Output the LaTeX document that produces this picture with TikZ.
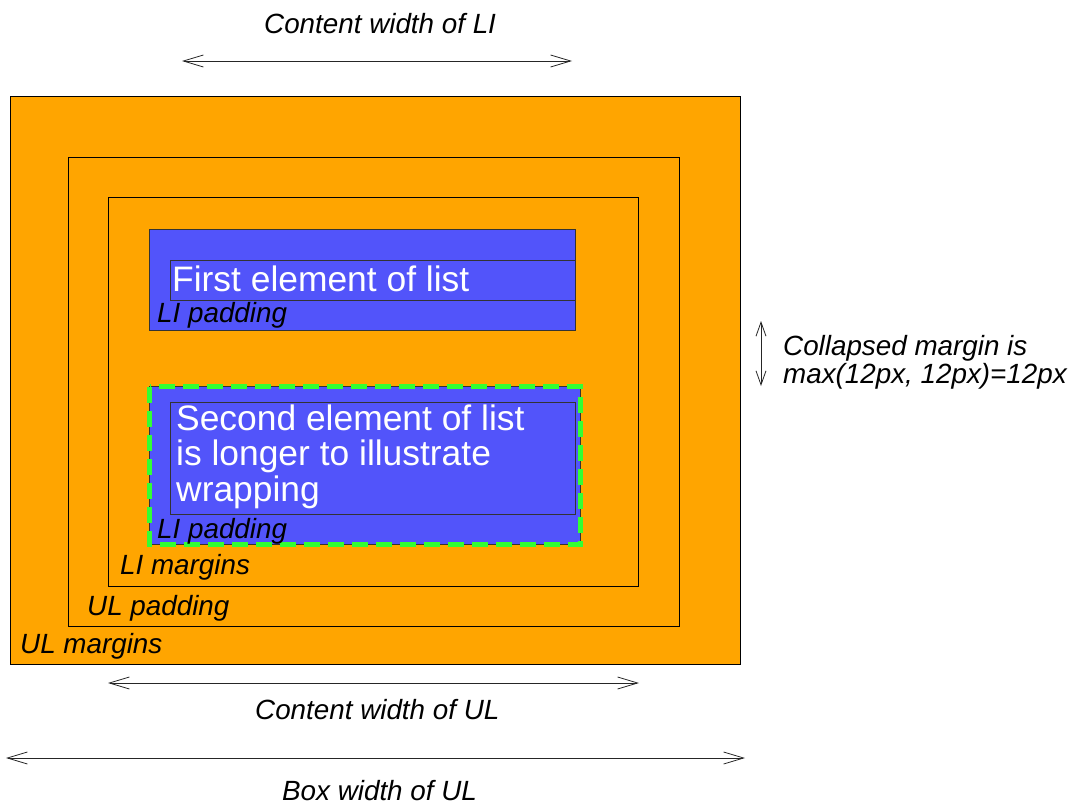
\documentclass[tikz,border=0pt]{standalone}
\usepackage{fontspec}
\setmainfont{Liberation Sans}
\usetikzlibrary{arrows.meta}
\definecolor{boxorange}{RGB}{255,165,0}
\definecolor{liblue}{RGB}{82,84,250}
\definecolor{focusgreen}{RGB}{51,255,51}
\tikzset{
  x=1pt, y=-1pt,
  frame/.style={draw=black, line width=0.9pt},
  contentbox/.style={draw=black!80, line width=1pt},
  itlabel/.style={anchor=base west, inner sep=0pt, font=\fontsize{27.8}{28}\selectfont\itshape},
  itemtext/.style={anchor=base west, inner sep=0pt, text=white, font=\fontsize{35.4}{35.5}\selectfont},
  dim/.style={draw=black!85, line width=0.8pt, {Straight Barb[length=20pt,width=12pt]}-{Straight Barb[length=20pt,width=12pt]}},
}
\begin{document}
\begin{tikzpicture}
\useasboundingbox (0,0) rectangle (1077,806);

% nested boxes of the list
\filldraw[frame, fill=boxorange] (10,96) rectangle (740,664);
\draw[frame] (68,157) rectangle (679,626);
\draw[frame] (108,197) rectangle (638,586);

% first list item
\filldraw[contentbox, fill=liblue] (149,229) rectangle (575,330);
\draw[contentbox] (170,260) rectangle (575,300);
\node[itemtext] (first) at (172,291) {First element of list};
\node[itlabel] (lipadA) at (157,322) {LI padding};

% second list item, with focus outline
\filldraw[contentbox, fill=liblue] (149.5,386.5) rectangle (580.5,544);
\draw[focusgreen, line width=5pt, dash pattern=on 16pt off 8pt] (149.5,386.5) rectangle (580.5,544);
\draw[contentbox] (170,402) rectangle (575,514);
% base of a multi-line node is the baseline of its last line
\node[itemtext, align=left] (second) at (176,501) {Second element of list\\is longer to illustrate\\wrapping};
\node[itlabel] (lipadB) at (157,538) {LI padding};

% box labels
\node[itlabel] (limarg) at (120,574) {LI margins};
\node[itlabel] (ulpad) at (87,615) {UL padding};
\node[itlabel] (ulmarg) at (20,653) {UL margins};

% dimension arrows
\coordinate (liL) at (182,61);
\coordinate (liR) at (572,61);
\draw[dim] (liL) -- (liR);
\node[itlabel] (liw) at (264,33) {Content width of LI};

\coordinate (ulcL) at (108,683);
\coordinate (ulcR) at (639,683);
\draw[dim] (ulcL) -- (ulcR);
\node[itlabel] (ulcw) at (255,719) {Content width of UL};

\coordinate (ulbL) at (6,758);
\coordinate (ulbR) at (745,758);
\draw[dim] (ulbL) -- (ulbR);
\node[itlabel] (ulbw) at (282,800) {Box width of UL};

\coordinate (colT) at (761,321);
\coordinate (colB) at (761,386);
\draw[dim, {Straight Barb[length=14pt,width=10pt]}-{Straight Barb[length=14pt,width=10pt]}] (colT) -- (colB);
\node[itlabel, align=left] (collapse) at (783,383) {Collapsed margin is\\max(12px, 12px)=12px};
\end{tikzpicture}
\end{document}
